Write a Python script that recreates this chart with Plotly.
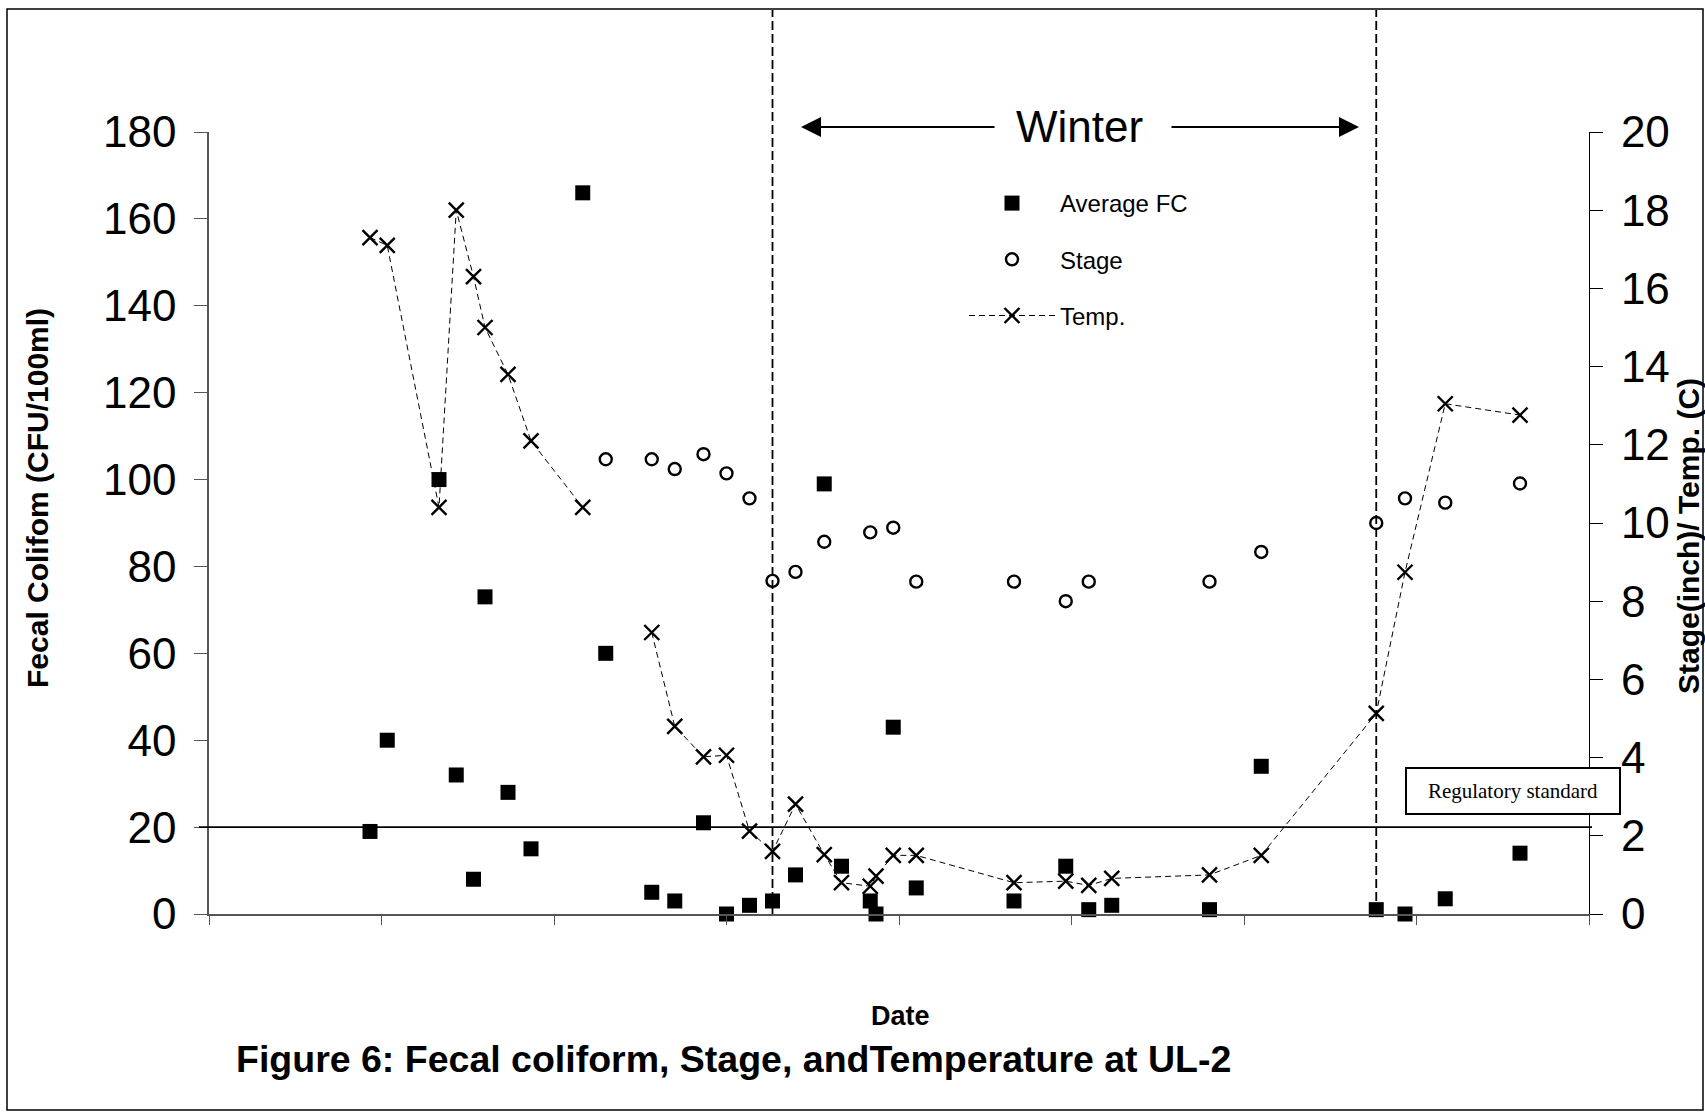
import plotly.graph_objects as go

# Sampling dates, expressed as day numbers from the start of the record
days = [28, 31, 40, 43, 46, 48, 52, 56, 65,
        69, 77, 81, 86, 90, 94, 98, 102, 107,
        110, 115, 116, 119, 123,
        140, 149, 153, 157,
        174, 183,
        203, 208, 215, 228]

# Average fecal coliform (CFU/100ml)
fc = [19, 40, 100, 32, 8, 73, 28, 15, 166,
      60, 5, 3, 21, 0, 2, 3, 9, 99,
      11, 3, 0, 43, 6,
      3, 11, 1, 2,
      1, 34,
      1, 0, 3.5, 14]

# Stage (inch)
stage = [None, None, None, None, None, None, None, None, None,
         11.63, 11.63, 11.38, 11.76, 11.27, 10.63, 8.52, 8.75, 9.52,
         None, 9.76, None, 9.88, 8.5,
         8.5, 8.0, 8.5, None,
         8.5, 9.26,
         10.0, 10.63, 10.52, 11.01]

# Water temperature (C)
temp = [17.3, 17.1, 10.4, 18.0, 16.3, 15.0, 13.8, 12.1, 10.4,
        None, 7.2, 4.8, 4.02, 4.06, 2.12, 1.6, 2.81, 1.52,
        0.8, 0.71, 0.97, 1.5, 1.5,
        0.8, 0.84, 0.73, 0.91,
        1.0, 1.5,
        5.13, 8.74, 13.05, 12.76]

winter_start, winter_end = 98, 203
regulatory_fc = 20

left_ticks = list(range(0, 181, 20))
right_ticks = list(range(0, 21, 2))

FONT = "Liberation Sans, Arial, sans-serif"
W, H = 1705, 1112
ML, MR, MT, MB = 209, 116, 132, 198
PW, PH = W - ML - MR, H - MT - MB


def px(xp):
    return (xp - ML) / PW


def py(yp):
    return (H - MB - yp) / PH


fig = go.Figure()

fig.add_trace(go.Scatter(
    x=days, y=fc, name="Average FC", mode="markers",
    marker=dict(symbol="square", size=15, color="black"),
    legendgroup="fc", yaxis="y", cliponaxis=False,
))
fig.add_trace(go.Scatter(
    x=days, y=stage, name="Stage", mode="markers",
    marker=dict(symbol="circle-open", size=12, color="black", line=dict(width=2.4, color="black")),
    legendgroup="stage", yaxis="y2", cliponaxis=False,
))
fig.add_trace(go.Scatter(
    x=days, y=temp, name="Temp.", mode="lines+markers",
    line=dict(color="black", width=1, dash="6px,4px"),
    marker=dict(symbol="x-thin-open", size=15, color="black", line=dict(width=2.4, color="black")),
    connectgaps=False, legendgroup="temp", yaxis="y2", cliponaxis=False,
))

shapes = [
    # figure frame
    dict(type="rect", xref="paper", yref="paper",
         x0=px(7), x1=px(1703), y0=py(1110), y1=py(9),
         line=dict(color="black", width=1.5), layer="below"),
    # regulatory standard line
    dict(type="line", xref="paper", yref="y", x0=px(199), x1=px(1592),
         y0=regulatory_fc, y1=regulatory_fc, line=dict(color="black", width=1.8)),
]
for d in (winter_start, winter_end):
    shapes.append(dict(type="line", xref="x", yref="paper", x0=d, x1=d,
                       y0=0, y1=py(10),
                       line=dict(color="black", width=1.8, dash="9px,4px")))


def label(text, xp, yp, size, angle=0, family=FONT, **extra):
    d = dict(text=text, xref="paper", yref="paper", x=px(xp), y=py(yp),
             xanchor="center", yanchor="middle", textangle=angle, showarrow=False,
             font=dict(size=size, family=family, color="black"))
    d.update(extra)
    return d


annotations = [
    label("<b>Fecal Colifom (CFU/100ml)</b>", 38, 498, 30, angle=-90),
    label("<b>Stage(inch)/ Temp. (C)</b>", 1688, 536, 30, angle=-90),
    label("<b>Date</b>", 900, 1016, 27),
    label("<b>Figure 6: Fecal coliform, Stage, andTemperature at UL-2</b>", 733, 1059, 37.5),
    label("Winter", 1079, 127, 44),
    label("Regulatory standard", 1513, 791, 21,
          family="Liberation Serif, Times New Roman, serif",
          width=212, height=44, bgcolor="white", bordercolor="black",
          borderwidth=2, borderpad=0),
    # winter arrows
    dict(text="", xref="paper", yref="paper", x=px(801), y=py(127),
         ax=195, ay=0, showarrow=True, arrowhead=2, arrowwidth=2, arrowsize=2,
         arrowcolor="black"),
    dict(text="", xref="paper", yref="paper", x=px(1359), y=py(127),
         ax=-189, ay=0, showarrow=True, arrowhead=2, arrowwidth=2, arrowsize=2,
         arrowcolor="black"),
]

fig.update_layout(
    width=W, height=H,
    margin=dict(l=ML, r=MR, t=MT, b=MB, pad=0),
    paper_bgcolor="white", plot_bgcolor="white",
    font=dict(family=FONT, color="black"),
    showlegend=True,
    legend=dict(x=px(964), y=py(181), xanchor="left", yanchor="top",
                bgcolor="rgba(0,0,0,0)", font=dict(size=24, family=FONT, color="black"),
                itemwidth=86, tracegroupgap=22),
    xaxis=dict(range=[0, 240], dtick=30, tick0=0, showgrid=False, zeroline=False,
               showticklabels=False, ticks="outside", ticklen=9, tickcolor="#555",
               showline=True, linecolor="#555", linewidth=1.5),
    yaxis=dict(range=[0, 180], tickvals=left_ticks, showgrid=False, zeroline=False,
               ticks="outside", ticklen=13, tickcolor="#555", tickwidth=1.2,
               showline=True, linecolor="#555", linewidth=1.5,
               tickfont=dict(size=44, family=FONT, color="black"), ticklabelstandoff=9),
    yaxis2=dict(range=[0, 20], tickvals=right_ticks, overlaying="y", side="right",
                anchor="x", showgrid=False, zeroline=False,
                ticks="outside", ticklen=13, tickcolor="black", tickwidth=1.2,
                showline=True, linecolor="black", linewidth=1.2,
                tickfont=dict(size=44, family=FONT, color="black"), ticklabelstandoff=9),
    yaxis3=dict(range=[0, 20], tickvals=right_ticks, overlaying="y", side="right",
                anchor="x", showgrid=False, zeroline=False, showticklabels=False,
                ticks="inside", ticklen=13, tickcolor="black", tickwidth=1.2,
                showline=False),
    shapes=shapes,
    annotations=annotations,
)

fig.write_html("out.html")
